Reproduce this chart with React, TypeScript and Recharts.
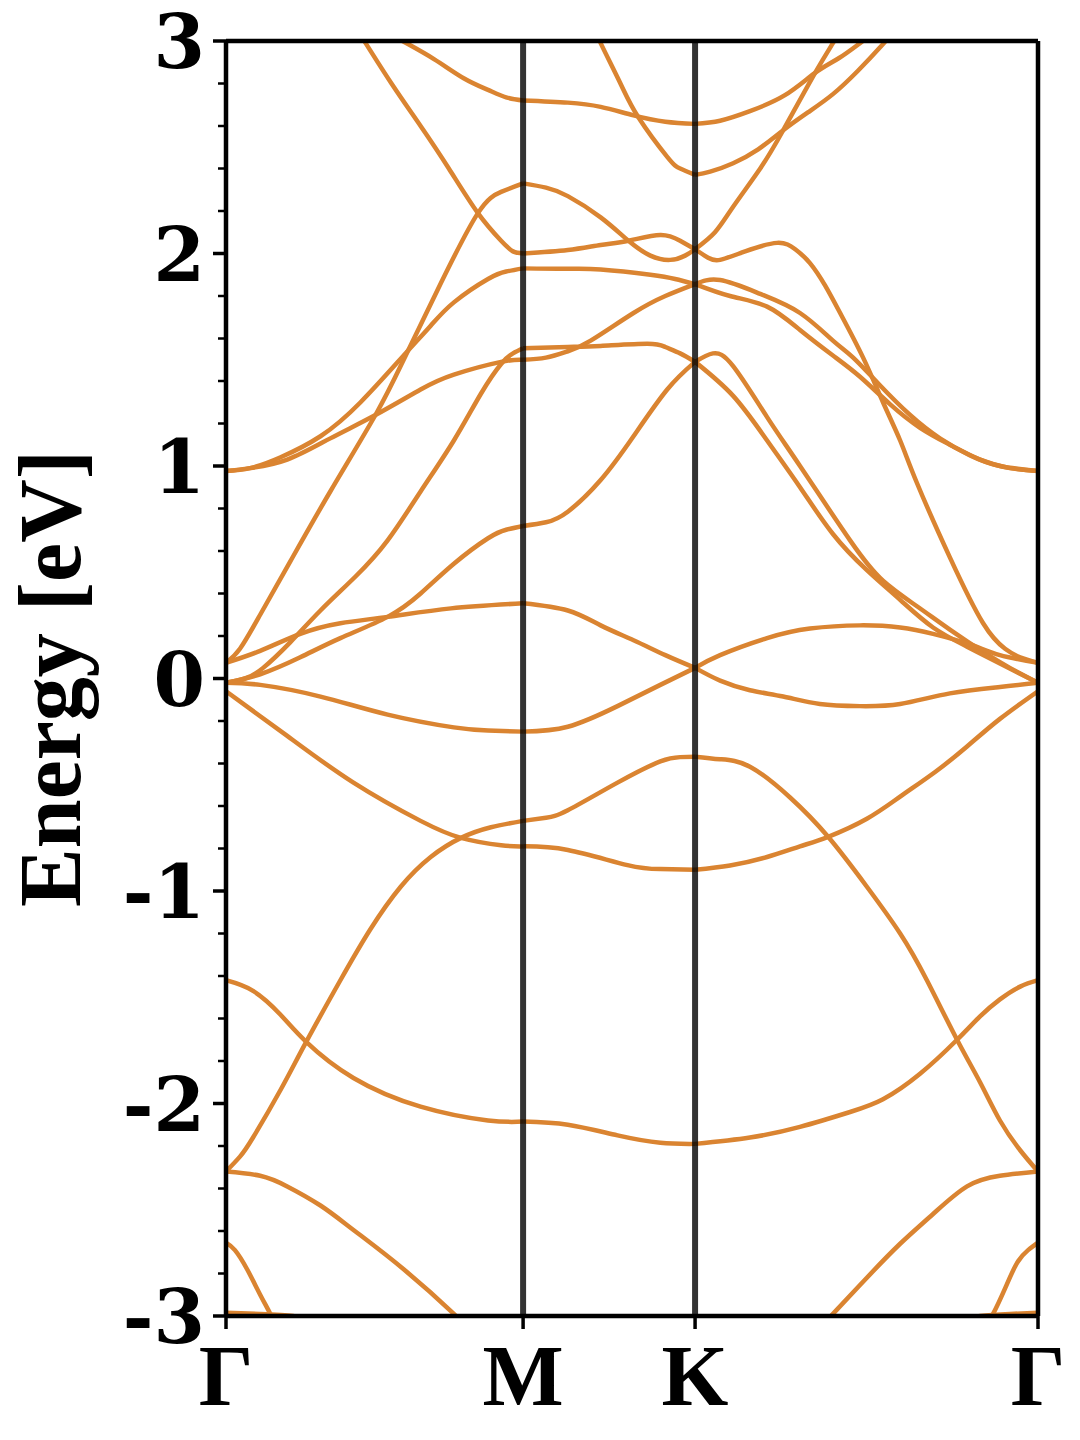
import React from 'react';
import { LineChart, Line, XAxis, YAxis, ReferenceLine } from 'recharts';

// high-symmetry points along Γ-M-K-Γ (path length, 1/Å)
const kPoints = [0, 0.577, 0.911, 1.577];
const kLabels = ['Γ', 'M', 'K', 'Γ'];

const yTicks = [
  -3, -2.8, -2.6, -2.4, -2.2, -2, -1.8, -1.6, -1.4, -1.2, -1, -0.8, -0.6, -0.4, -0.2, 0,
  0.2, 0.4, 0.6, 0.8, 1, 1.2, 1.4, 1.6, 1.8, 2, 2.2, 2.4, 2.6, 2.8, 3,
];

// bands per path segment: [fraction along segment, energy in eV]
const bandsGM = [
  [[0.419, 3.1], [0.47, 2.99], [0.557, 2.8], [0.655, 2.6], [0.75, 2.4], [0.848, 2.19], [0.926, 2.06], [0.966, 2.01], [1, 2.0]],
  [[0.52, 3.06], [0.594, 3.0], [0.7, 2.915], [0.8, 2.825], [0.882, 2.77], [0.943, 2.735], [1, 2.72]],
  [[0, 0.074], [0.047, 0.14], [0.115, 0.3], [0.216, 0.55], [0.351, 0.88], [0.503, 1.24], [0.598, 1.5], [0.723, 1.86], [0.848, 2.19], [0.926, 2.29], [1, 2.33]],
  [[0, 0.976], [0.081, 0.99], [0.182, 1.04], [0.318, 1.14], [0.453, 1.3], [0.598, 1.52], [0.689, 1.66], [0.767, 1.77], [0.882, 1.88], [0.943, 1.915], [1, 1.93]],
  [[0, 0.976], [0.081, 0.99], [0.206, 1.03], [0.351, 1.13], [0.503, 1.24], [0.655, 1.36], [0.767, 1.43], [0.926, 1.49], [1, 1.5]],
  [[0, -0.02], [0.064, 0.0], [0.125, 0.05], [0.216, 0.17], [0.318, 0.32], [0.436, 0.48], [0.544, 0.65], [0.655, 0.88], [0.767, 1.12], [0.858, 1.34], [0.926, 1.48], [0.966, 1.53], [1, 1.554]],
  [[0, 0.074], [0.115, 0.13], [0.25, 0.21], [0.385, 0.26], [0.544, 0.29], [0.757, 0.33], [1, 0.354]],
  [[0, -0.02], [0.115, 0.02], [0.25, 0.1], [0.385, 0.19], [0.544, 0.29], [0.655, 0.4], [0.767, 0.54], [0.882, 0.66], [0.943, 0.7], [1, 0.718]],
  [[0, -0.02], [0.115, -0.03], [0.318, -0.085], [0.544, -0.17], [0.767, -0.23], [0.882, -0.245], [1, -0.25]],
  [[0, -0.06], [0.206, -0.27], [0.429, -0.49], [0.655, -0.67], [0.791, -0.75], [0.926, -0.785], [1, -0.79]],
  [[0, -2.32], [0.047, -2.25], [0.091, -2.16], [0.182, -1.94], [0.27, -1.71], [0.385, -1.42], [0.486, -1.18], [0.588, -0.98], [0.689, -0.84], [0.791, -0.75], [0.892, -0.7], [1, -0.67]],
  [[0, -1.42], [0.091, -1.47], [0.182, -1.58], [0.27, -1.71], [0.429, -1.88], [0.655, -2.015], [0.882, -2.08], [1, -2.085]],
  [[0, -2.32], [0.115, -2.34], [0.206, -2.39], [0.318, -2.48], [0.429, -2.595], [0.598, -2.78], [0.767, -2.99], [0.807, -3.05]],
  [[0, -2.655], [0.03, -2.69], [0.071, -2.78], [0.115, -2.9], [0.149, -2.99], [0.166, -3.05]],
  [[0, -2.985], [0.115, -2.99], [0.226, -3.0], [0.284, -3.03]],
];

const bandsMK = [
  [[0, 2.72], [0.26, 2.71], [0.451, 2.69], [0.642, 2.65], [0.827, 2.62], [1, 2.61]],
  [[0.422, 3.05], [0.451, 2.99], [0.566, 2.8], [0.671, 2.64], [0.838, 2.455], [0.913, 2.4], [1, 2.37]],
  [[0, 2.0], [0.26, 2.016], [0.451, 2.04], [0.613, 2.06], [0.798, 2.087], [0.913, 2.06], [1, 2.02]],
  [[0, 2.33], [0.133, 2.31], [0.26, 2.27], [0.451, 2.17], [0.613, 2.06], [0.74, 1.99], [0.855, 1.97], [0.942, 1.99], [1, 2.02]],
  [[0, 1.93], [0.26, 1.928], [0.451, 1.925], [0.74, 1.9], [0.884, 1.88], [1, 1.856]],
  [[0, 1.5], [0.133, 1.51], [0.26, 1.54], [0.393, 1.59], [0.642, 1.72], [0.827, 1.8], [1, 1.856]],
  [[0, 1.554], [0.26, 1.56], [0.451, 1.565], [0.723, 1.575], [0.827, 1.56], [0.913, 1.53], [1, 1.49]],
  [[0, 0.718], [0.133, 0.735], [0.26, 0.785], [0.451, 0.934], [0.642, 1.14], [0.838, 1.36], [1, 1.49]],
  [[0, 0.354], [0.26, 0.32], [0.451, 0.25], [0.642, 0.18], [0.827, 0.11], [1, 0.05]],
  [[0, -0.25], [0.26, -0.227], [0.549, -0.13], [0.798, -0.03], [1, 0.05]],
  [[0, -0.67], [0.133, -0.655], [0.26, -0.62], [0.549, -0.49], [0.798, -0.39], [0.913, -0.37], [1, -0.368]],
  [[0, -0.79], [0.26, -0.807], [0.607, -0.878], [0.798, -0.897], [1, -0.9]],
  [[0, -2.085], [0.26, -2.1], [0.549, -2.15], [0.798, -2.185], [1, -2.19]],
];

const bandsKG = [
  [[0, 2.61], [0.073, 2.625], [0.16, 2.67], [0.262, 2.745], [0.35, 2.85], [0.42, 2.92], [0.481, 2.99], [0.525, 3.04]],
  [[0, 2.37], [0.044, 2.385], [0.111, 2.425], [0.184, 2.49], [0.257, 2.58], [0.33, 2.665], [0.402, 2.75], [0.475, 2.86], [0.545, 2.98], [0.583, 3.05]],
  [[0, 2.02], [0.058, 2.1], [0.111, 2.22], [0.19, 2.4], [0.257, 2.58], [0.35, 2.85], [0.402, 2.99], [0.423, 3.05]],
  [[0, 2.02], [0.038, 1.98], [0.073, 1.97], [0.146, 2.01], [0.239, 2.05], [0.292, 2.02], [0.335, 1.955], [0.379, 1.85], [0.423, 1.72], [0.49, 1.51], [0.548, 1.3], [0.598, 1.12], [0.647, 0.92], [0.743, 0.57], [0.84, 0.26], [0.904, 0.14], [0.948, 0.1], [1, 0.074]],
  [[0, 1.856], [0.073, 1.875], [0.19, 1.81], [0.306, 1.72], [0.402, 1.59], [0.461, 1.51], [0.539, 1.38], [0.627, 1.24], [0.714, 1.13], [0.802, 1.05], [0.889, 1.0], [1, 0.976]],
  [[0, 1.856], [0.102, 1.8], [0.21, 1.75], [0.306, 1.64], [0.402, 1.52], [0.481, 1.42], [0.569, 1.29], [0.656, 1.18], [0.743, 1.1], [0.831, 1.03], [0.918, 0.99], [1, 0.976]],
  [[0, 1.49], [0.052, 1.53], [0.111, 1.47], [0.21, 1.23], [0.306, 1.0], [0.452, 0.65], [0.548, 0.46], [0.647, 0.34], [0.743, 0.23], [0.845, 0.12], [0.918, 0.05], [1, -0.02]],
  [[0, 1.49], [0.111, 1.33], [0.21, 1.12], [0.306, 0.9], [0.402, 0.68], [0.501, 0.51], [0.598, 0.37], [0.694, 0.24], [0.793, 0.15], [0.889, 0.07], [1, -0.02]],
  [[0, 0.05], [0.073, 0.11], [0.21, 0.19], [0.335, 0.235], [0.481, 0.25], [0.598, 0.24], [0.694, 0.21], [0.802, 0.16], [0.889, 0.11], [1, 0.074]],
  [[0, 0.05], [0.073, -0.01], [0.16, -0.055], [0.257, -0.085], [0.364, -0.12], [0.481, -0.13], [0.598, -0.12], [0.743, -0.07], [0.889, -0.04], [1, -0.02]],
  [[0, -0.368], [0.073, -0.38], [0.16, -0.415], [0.277, -0.56], [0.388, -0.745], [0.501, -0.98], [0.598, -1.2], [0.676, -1.42], [0.764, -1.7], [0.831, -1.9], [0.889, -2.08], [0.948, -2.22], [1, -2.32]],
  [[0, -0.9], [0.102, -0.88], [0.21, -0.84], [0.306, -0.79], [0.388, -0.745], [0.501, -0.66], [0.598, -0.556], [0.7, -0.44], [0.793, -0.32], [0.889, -0.19], [1, -0.06]],
  [[0, -2.19], [0.16, -2.16], [0.306, -2.11], [0.452, -2.04], [0.548, -1.98], [0.656, -1.86], [0.764, -1.7], [0.831, -1.59], [0.889, -1.51], [0.948, -1.45], [1, -1.42]],
  [[0.364, -3.05], [0.402, -2.99], [0.501, -2.82], [0.598, -2.66], [0.694, -2.52], [0.793, -2.39], [0.889, -2.34], [1, -2.32]],
  [[0.845, -3.05], [0.869, -2.99], [0.904, -2.87], [0.939, -2.75], [0.971, -2.69], [1, -2.655]],
  [[0.773, -3.02], [0.831, -3.0], [0.918, -2.99], [1, -2.985]],
];

const BAND_COLOR = '#da8431';
const FONT = '"Liberation Serif", "Times New Roman", serif';
const TICK_FONT = '"DejaVu Serif", "Liberation Serif", serif';

const segments = [
  { from: 0, to: 1, bands: bandsGM },
  { from: 1, to: 2, bands: bandsMK },
  { from: 2, to: 3, bands: bandsKG },
];

const series = segments.flatMap((seg, si) =>
  seg.bands.map((pts, bi) => ({
    id: `s${si}-${bi}`,
    data: pts.map(([t, e]) => ({
      k: kPoints[seg.from] + t * (kPoints[seg.to] - kPoints[seg.from]),
      e,
    })),
  }))
);

function YTick({ x, y, payload }: any) {
  const v = payload.value;
  const major = Math.abs(v - Math.round(v)) < 1e-6;
  return (
    <g>
      <line x1={x - (major ? 13 : 8)} x2={x} y1={y} y2={y} stroke="#000" strokeWidth={major ? 3.5 : 2.5} />
      {major && (
        <text x={x - 21} y={y + 27} textAnchor="end" fontFamily={TICK_FONT} fontWeight="bold" fontSize={74} fill="#000">
          {Math.round(v)}
        </text>
      )}
    </g>
  );
}

function XTick({ x, y, payload }: any) {
  const i = kPoints.indexOf(payload.value);
  return (
    <g>
      <line x1={x} x2={x} y1={y} y2={y + 13} stroke="#000" strokeWidth={3.5} />
      <text x={x} y={y + 89} textAnchor="middle" fontFamily={FONT} fontWeight="bold" fontSize={86} fill="#000">
        {kLabels[i]}
      </text>
    </g>
  );
}

function EnergyLabel({ viewBox }: any) {
  const cx = viewBox.x + 50;
  const cy = viewBox.y + viewBox.height / 2;
  return (
    <text
      x={cx}
      y={cy}
      transform={`rotate(-90, ${cx}, ${cy})`}
      textAnchor="middle"
      dominantBaseline="central"
      fontFamily={FONT}
      fontWeight="bold"
      fontSize={88}
      fill="#000"
    >
      Energy [eV]
    </text>
  );
}

export default function App() {
  return (
    <div style={{ position: 'absolute', left: 0, top: 0, width: 1080, height: 1440, background: '#fff' }}>
      <LineChart width={1080} height={1440} margin={{ top: 41, right: 42, bottom: 0, left: 0 }}>
        <XAxis
          type="number"
          dataKey="k"
          domain={[kPoints[0], kPoints[3]]}
          ticks={kPoints}
          allowDataOverflow
          height={124}
          tickSize={0}
          tickMargin={0}
          tick={<XTick />}
          axisLine={{ stroke: '#000', strokeWidth: 4.5 }}
        />
        <YAxis
          type="number"
          domain={[-3, 3]}
          ticks={yTicks}
          interval={0}
          allowDataOverflow
          width={226}
          tickSize={0}
          tickMargin={0}
          tick={<YTick />}
          axisLine={{ stroke: '#000', strokeWidth: 4.5 }}
          label={<EnergyLabel />}
        />
        {series.map((s) => (
          <Line
            key={s.id}
            data={s.data}
            dataKey="e"
            type="natural"
            stroke={BAND_COLOR}
            strokeWidth={4.5}
            dot={false}
            activeDot={false}
            isAnimationActive={false}
          />
        ))}
        <ReferenceLine x={kPoints[1]} stroke="#000" strokeOpacity={0.8} strokeWidth={6} />
        <ReferenceLine x={kPoints[2]} stroke="#000" strokeOpacity={0.8} strokeWidth={6} />
        <ReferenceLine y={3} stroke="#000" strokeWidth={4.5} />
        <ReferenceLine x={kPoints[3]} stroke="#000" strokeWidth={4.5} />
      </LineChart>
    </div>
  );
}
